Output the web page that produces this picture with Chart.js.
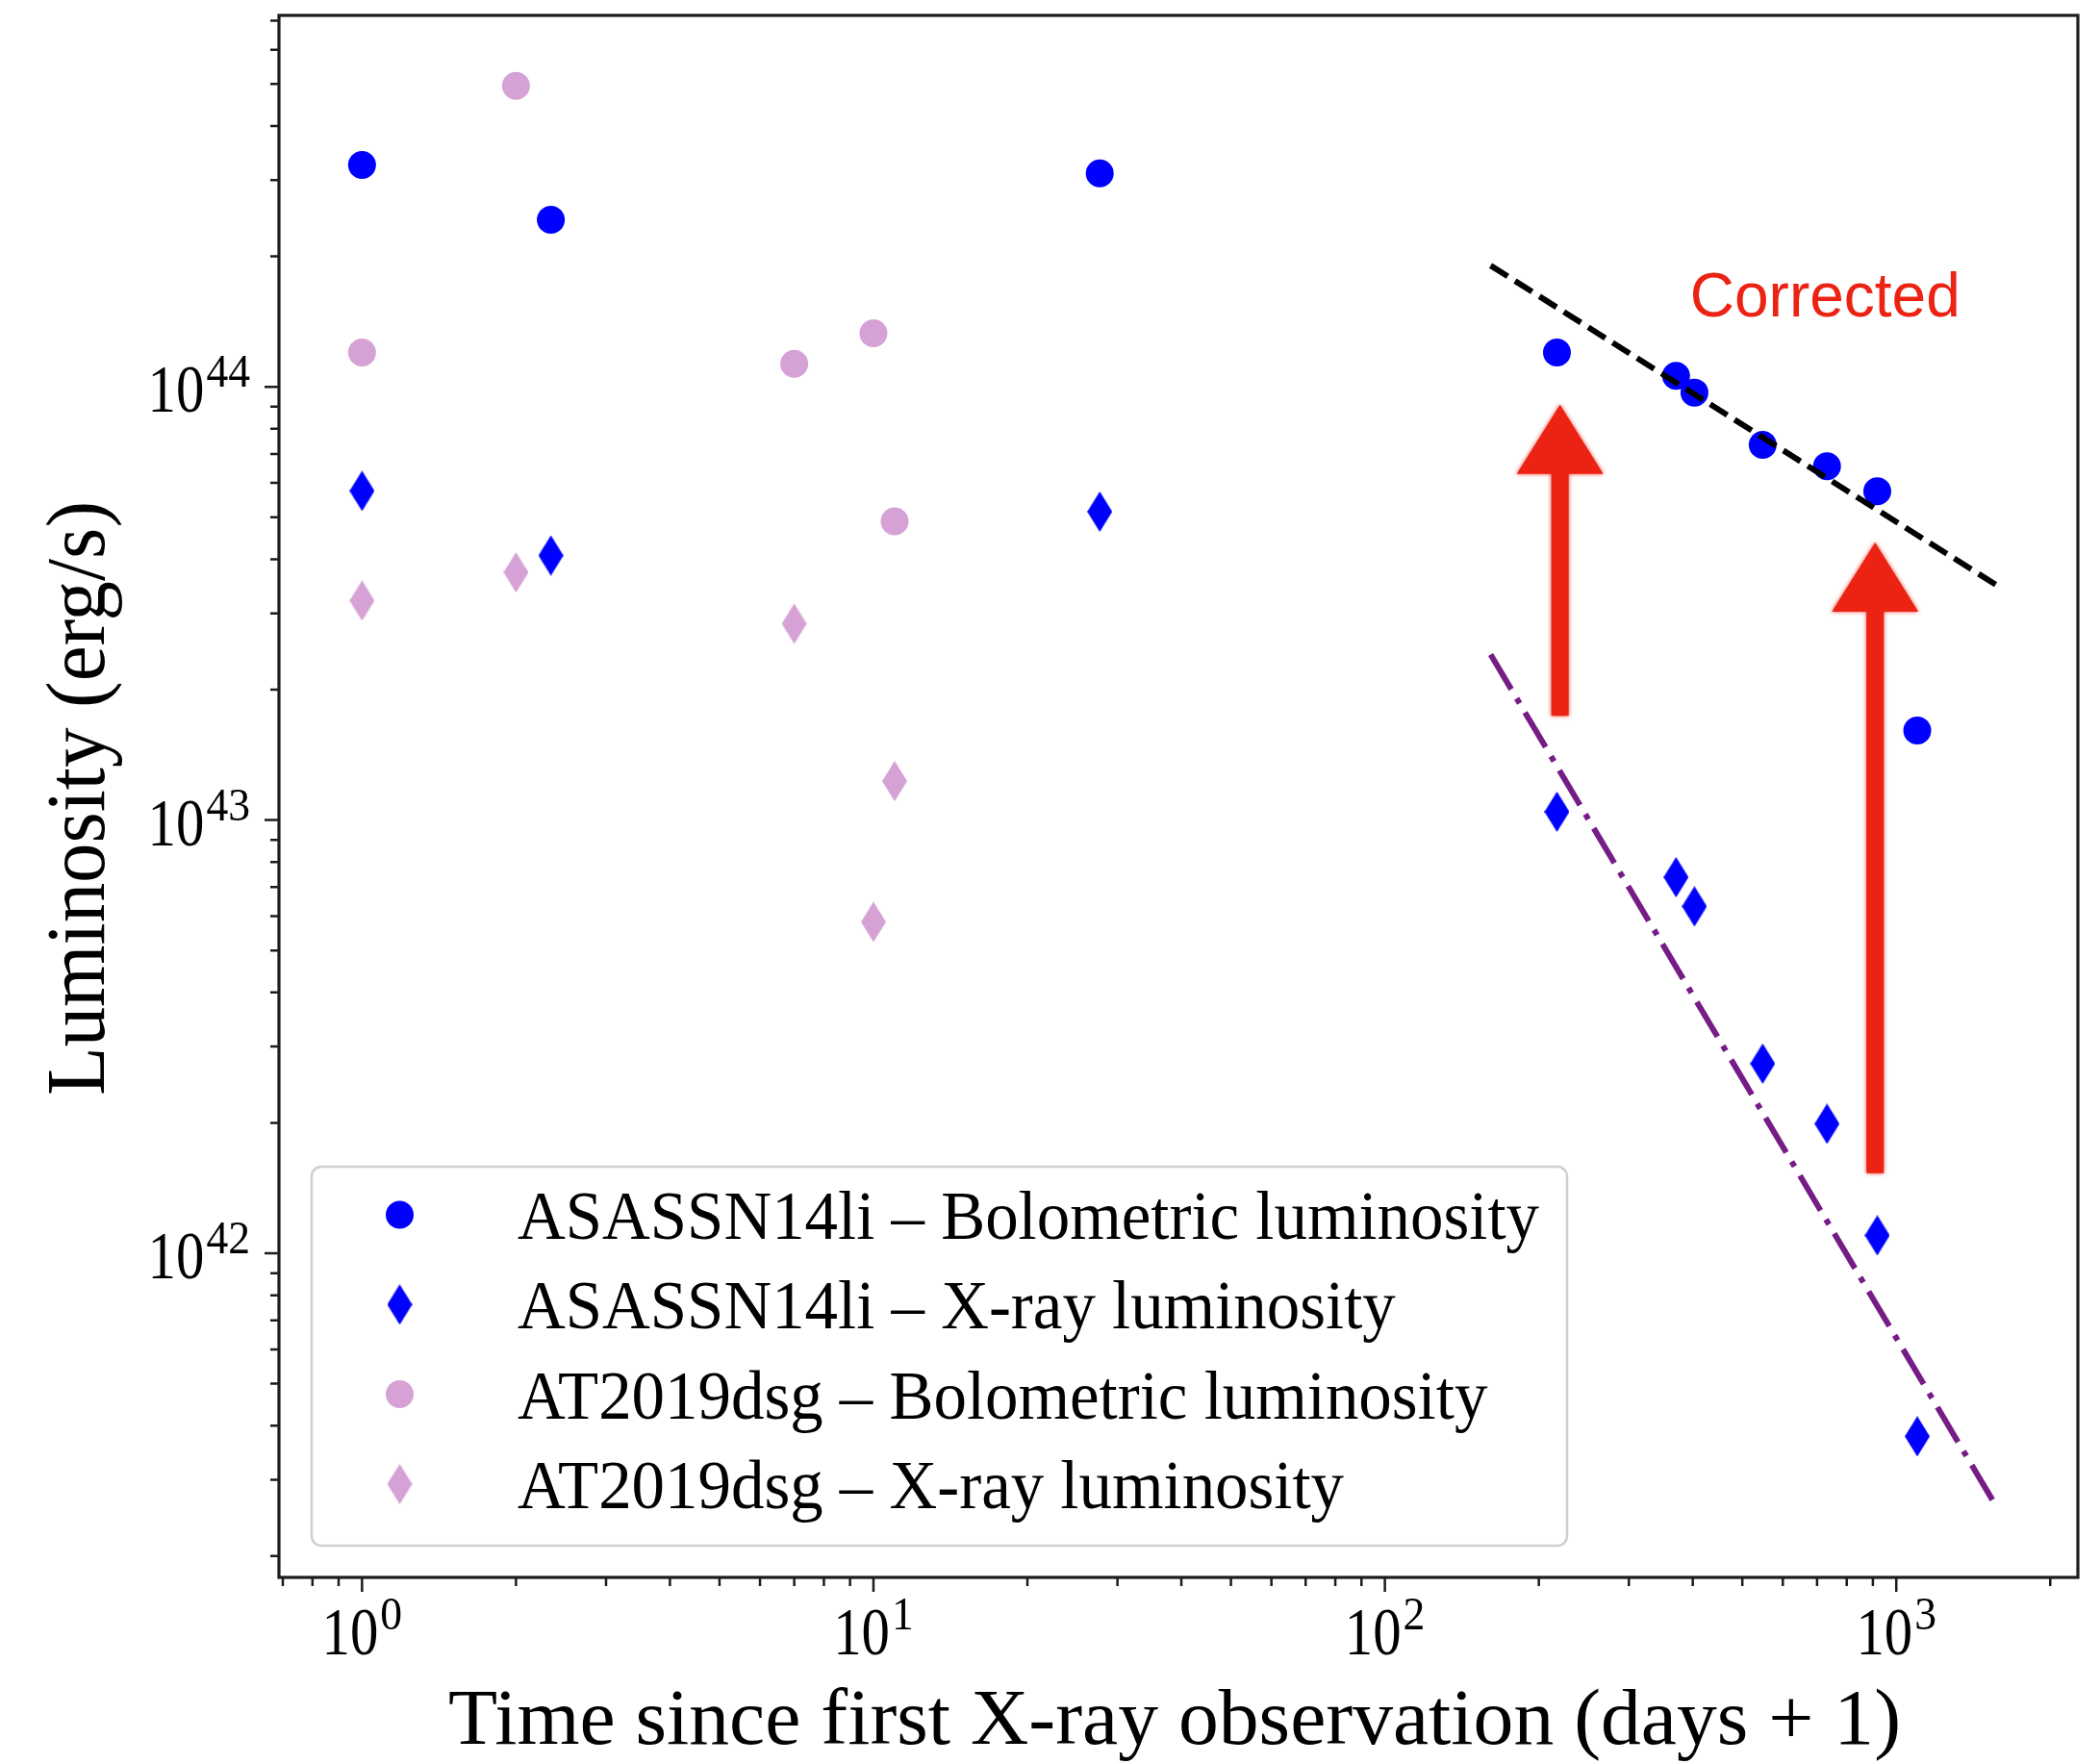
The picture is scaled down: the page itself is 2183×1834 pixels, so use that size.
<!DOCTYPE html>
<html>
<head>
<meta charset="utf-8">
<style>
  html, body { margin: 0; padding: 0; background: #ffffff; }
  #wrap { width: 2183px; height: 1834px; }
</style>
<script src="https://cdn.jsdelivr.net/npm/chart.js@4.4.1/dist/chart.umd.min.js"></script>
</head>
<body>
<div id="wrap"><canvas id="lumChart" width="2183" height="1834"></canvas></div>
<script>
// Time since first X-ray observation (days + 1)
const asassnDays = [1, 2.34, 27.7, 217, 371, 403, 548, 732, 918, 1099];
// ASASSN14li luminosities (erg/s)
const asassnBol = [3.25e44, 2.43e44, 3.11e44, 1.20e44, 1.06e44, 9.7e43, 7.35e43, 6.56e43, 5.74e43, 1.61e43];
const asassnXray = [5.75e43, 4.08e43, 5.15e43, 1.045e43, 7.38e42, 6.32e42, 2.74e42, 1.99e42, 1.10e42, 3.78e41];
// AT2019dsg
const dsgDays = [1, 2, 7, 10, 11];
const dsgBol = [1.20e44, 4.95e44, 1.13e44, 1.33e44, 4.89e43];
const dsgXray = [3.21e43, 3.73e43, 2.84e43, 5.82e42, 1.23e43];
// power-law fits through the late points
const bolFitDays = [161, 1567];
const bolFitLum = [1.905e44, 3.49e43];
const xrayFitDays = [161, 1570];
const xrayFitLum = [2.41e43, 2.60e41];
// "Corrected" arrows: x, tip, tail
const arrowDays = [220, 909];
const arrowTip = [9.09e43, 4.375e43];
const arrowTail = [1.741e43, 1.531e42];

const xRange = [0.688, 2265];
const yRange = [1.786e41, 7.2e44];
const xDecades = [0, 1, 2, 3];
const yDecades = [42, 43, 44];

const legendLabels = [
  'ASASSN14li \u2013 Bolometric luminosity',
  'ASASSN14li \u2013 X-ray luminosity',
  'AT2019dsg \u2013 Bolometric luminosity',
  'AT2019dsg \u2013 X-ray luminosity'
];

const palette = { blue: '#0000ff', plum: '#d6a2d6', fit: '#000000', fitX: '#761c86', red: '#ec2213', axis: '#1c1c1c' };
const SERIF = '"Liberation Serif", "DejaVu Serif", serif';

(function () {
  // thin diamond marker, as matplotlib's 'd'
  function diamond(color, w, h) {
    const c = document.createElement('canvas');
    c.width = w; c.height = h;
    const g = c.getContext('2d');
    g.fillStyle = color;
    g.beginPath();
    g.moveTo(w / 2, 0); g.lineTo(w, h / 2); g.lineTo(w / 2, h); g.lineTo(0, h / 2);
    g.closePath();
    g.fill();
    return c;
  }
  const blueDiamond = diamond(palette.blue, 26, 42);
  const plumDiamond = diamond(palette.plum, 26, 42);

  const pts = (xs, ys) => xs.map((x, i) => ({ x: x, y: ys[i] }));

  function text(ctx, str, x, y, size, sx, align, color) {
    ctx.save();
    ctx.font = size + 'px ' + SERIF;
    ctx.fillStyle = color || '#000';
    const w = ctx.measureText(str).width * sx;
    const x0 = align === 'center' ? x - w / 2 : align === 'right' ? x - w : x;
    ctx.translate(x0, y);
    ctx.scale(sx, 1);
    ctx.textAlign = 'left';
    ctx.textBaseline = 'alphabetic';
    ctx.fillText(str, 0, 0);
    ctx.restore();
    return w;
  }

  function measure(ctx, str, size) {
    ctx.save();
    ctx.font = size + 'px ' + SERIF;
    const w = ctx.measureText(str).width;
    ctx.restore();
    return w;
  }

  // 10^n tick label; anchor is centre (x axis) or right edge (y axis)
  function powLabel(ctx, exp, x, base, align) {
    const mainSize = 70, mainSx = 0.84, supSize = 48, supSx = 0.95;
    const wMain = measure(ctx, '10', mainSize) * mainSx;
    const wSup = measure(ctx, String(exp), supSize) * supSx;
    const total = wMain + 2 + wSup;
    const left = align === 'center' ? x - total / 2 : x - total;
    text(ctx, '10', left, base, mainSize, mainSx, 'left');
    text(ctx, String(exp), left + wMain + 2, base - 26, supSize, supSx, 'left');
  }

  const axesPlugin = {
    id: 'axesPlugin',
    beforeDraw(chart) {
      const ctx = chart.ctx;
      ctx.save();
      ctx.fillStyle = '#ffffff';
      ctx.fillRect(0, 0, chart.width, chart.height);
      ctx.restore();
    },
    beforeDatasetsDraw(chart) {
      const ctx = chart.ctx;
      const xs = chart.scales.x, ys = chart.scales.y;
      // red arrows
      ctx.save();
      ctx.fillStyle = palette.red;
      ctx.shadowColor = 'rgba(236, 34, 19, 0.85)';
      ctx.shadowBlur = 4;
      arrowDays.forEach((d, i) => {
        const x = xs.getPixelForValue(d);
        const tip = ys.getPixelForValue(arrowTip[i]);
        const tail = ys.getPixelForValue(arrowTail[i]);
        const headW = 90, headH = 72, shaftW = 18;
        ctx.beginPath();
        ctx.moveTo(x, tip);
        ctx.lineTo(x + headW / 2, tip + headH);
        ctx.lineTo(x + shaftW / 2, tip + headH);
        ctx.lineTo(x + shaftW / 2, tail);
        ctx.lineTo(x - shaftW / 2, tail);
        ctx.lineTo(x - shaftW / 2, tip + headH);
        ctx.lineTo(x - headW / 2, tip + headH);
        ctx.closePath();
        ctx.fill();
      });
      ctx.restore();

      // label above the bolometric fit
      ctx.save();
      ctx.font = '64px "Liberation Sans", Arial, sans-serif';
      ctx.fillStyle = palette.red;
      ctx.textBaseline = 'alphabetic';
      ctx.fillText('Corrected', xs.getPixelForValue(395), ys.getPixelForValue(1.45e44));
      ctx.restore();
    },
    afterDraw(chart) {
      const ctx = chart.ctx;
      const area = chart.chartArea;
      const xs = chart.scales.x, ys = chart.scales.y;

      // ticks, major and minor, on the outside
      ctx.save();
      ctx.strokeStyle = palette.axis;
      ctx.lineWidth = 2.5;
      ctx.beginPath();
      for (let d = -1; d <= 3; d++) {
        for (let m = 1; m <= 9; m++) {
          const v = m * Math.pow(10, d);
          if (v < xRange[0] || v > xRange[1]) continue;
          const px = xs.getPixelForValue(v);
          ctx.moveTo(px, area.bottom);
          ctx.lineTo(px, area.bottom + (m === 1 ? 15 : 9));
        }
      }
      for (let d = 41; d <= 44; d++) {
        for (let m = 1; m <= 9; m++) {
          const v = m * Math.pow(10, d);
          if (v < yRange[0] || v > yRange[1]) continue;
          const py = ys.getPixelForValue(v);
          ctx.moveTo(area.left, py);
          ctx.lineTo(area.left - (m === 1 ? 15 : 9), py);
        }
      }
      ctx.stroke();

      // frame
      ctx.lineWidth = 3.2;
      ctx.strokeRect(area.left, area.top, area.right - area.left, area.bottom - area.top);
      ctx.restore();

      xDecades.forEach(e => powLabel(ctx, e, xs.getPixelForValue(Math.pow(10, e)), area.bottom + 80, 'center'));
      yDecades.forEach(e => powLabel(ctx, e, 260, ys.getPixelForValue(Math.pow(10, e)) + 26, 'right'));

      // axis titles
      const xTitle = 'Time since first X-ray observation (days + 1)';
      text(ctx, xTitle, 1221, 1813, 83, 1510 / measure(ctx, xTitle, 83), 'center');
      const yTitle = 'Luminosity (erg/s)';
      ctx.save();
      ctx.translate(108, 830);
      ctx.rotate(-Math.PI / 2);
      text(ctx, yTitle, 0, 0, 86, 618 / measure(ctx, yTitle, 86), 'center');
      ctx.restore();

      // legend box
      const box = { l: 324, t: 1213, r: 1629, b: 1607 };
      ctx.save();
      ctx.fillStyle = 'rgba(255,255,255,0.85)';
      ctx.strokeStyle = '#cfcfcf';
      ctx.lineWidth = 2.5;
      ctx.beginPath();
      ctx.roundRect(box.l, box.t, box.r - box.l, box.b - box.t, 10);
      ctx.fill();
      ctx.stroke();
      ctx.restore();

      const legSx = 1062 / measure(ctx, legendLabels[0], 72);
      const markers = [
        { style: 'circle', color: palette.blue },
        { style: blueDiamond },
        { style: 'circle', color: palette.plum },
        { style: plumDiamond }
      ];
      legendLabels.forEach((lab, i) => {
        const base = 1288 + i * 93.3;
        const cy = base - 25;
        const mk = markers[i];
        ctx.save();
        if (mk.style === 'circle') {
          ctx.fillStyle = mk.color;
          ctx.beginPath();
          ctx.arc(415.5, cy, 14.5, 0, Math.PI * 2);
          ctx.fill();
        } else {
          ctx.drawImage(mk.style, 415.5 - mk.style.width / 2, cy - mk.style.height / 2);
        }
        ctx.restore();
        text(ctx, lab, 538, base, 72, legSx, 'left');
      });
    }
  };

  const chartData = {
    datasets: [
      {
        label: 'bolometric fit',
        data: pts(bolFitDays, bolFitLum),
        showLine: true,
        borderColor: palette.fit,
        borderWidth: 6,
        borderDash: [21, 9],
        pointRadius: 0
      },
      {
        label: 'x-ray fit',
        data: pts(xrayFitDays, xrayFitLum),
        showLine: true,
        borderColor: palette.fitX,
        borderWidth: 6,
        borderDash: [42, 11, 6, 11],
        pointRadius: 0
      },
      {
        label: legendLabels[0],
        data: pts(asassnDays, asassnBol),
        pointStyle: 'circle',
        pointRadius: 14.5,
        backgroundColor: palette.blue,
        borderWidth: 0
      },
      {
        label: legendLabels[1],
        data: pts(asassnDays, asassnXray),
        pointStyle: blueDiamond,
        backgroundColor: palette.blue,
        borderWidth: 0
      },
      {
        label: legendLabels[2],
        data: pts(dsgDays, dsgBol),
        pointStyle: 'circle',
        pointRadius: 14.5,
        backgroundColor: palette.plum,
        borderWidth: 0
      },
      {
        label: legendLabels[3],
        data: pts(dsgDays, dsgXray),
        pointStyle: plumDiamond,
        backgroundColor: palette.plum,
        borderWidth: 0
      }
    ]
  };

  new Chart(document.getElementById('lumChart'), {
    type: 'scatter',
    data: chartData,
    plugins: [axesPlugin],
    options: {
      responsive: false,
      animation: false,
      devicePixelRatio: 1,
      layout: { padding: { left: 290, top: 16, right: 23, bottom: 194 } },
      plugins: {
        legend: { display: false },
        tooltip: { enabled: false },
        title: { display: false }
      },
      scales: {
        x: { type: 'logarithmic', min: xRange[0], max: xRange[1], display: false },
        y: { type: 'logarithmic', min: yRange[0], max: yRange[1], display: false }
      }
    }
  });
})();
</script>
</body>
</html>
